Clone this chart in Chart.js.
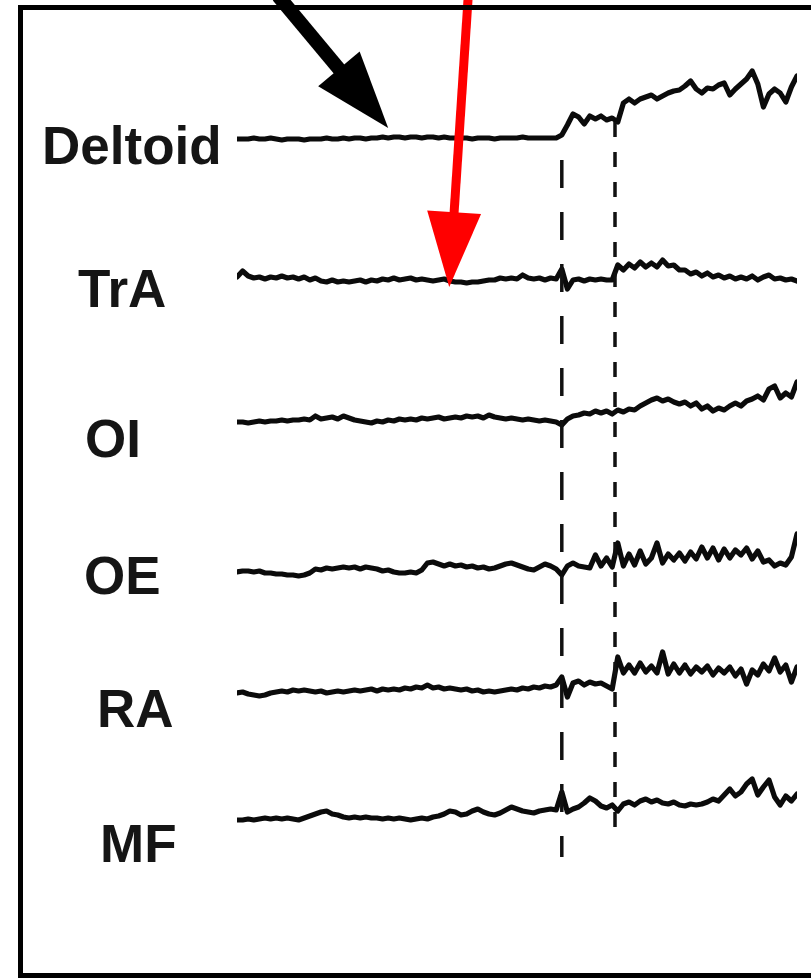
<!DOCTYPE html>
<html>
<head>
<meta charset="utf-8">
<title>EMG onset</title>
<script src="https://cdn.jsdelivr.net/npm/chart.js@4.4.1/dist/chart.umd.min.js"></script>
<style>
  html, body { margin: 0; padding: 0; background: #fff; }
  canvas { display: block; }
</style>
</head>
<body>
<canvas id="emg" width="811" height="979"></canvas>
<script>
// sample times (ms), 10 ms per sample
const timeMs = [
  0, 10, 20, 30, 40, 50, 60, 70, 80, 90,
  100, 110, 120, 130, 140, 150, 160, 170, 180, 190,
  200, 210, 220, 230, 240, 250, 260, 270, 280, 290,
  300, 310, 320, 330, 340, 350, 360, 370, 380, 390,
  400, 410, 420, 430, 440, 450, 460, 470, 480, 490,
  500, 510, 520, 530, 540, 550, 560, 570, 580, 590,
  600, 610, 620, 630, 640, 650, 660, 670, 680, 690,
  700, 710, 720, 730, 740, 750, 760, 770, 780, 790,
  800, 810, 820, 830, 840, 850, 860, 870, 880, 890,
  900, 910, 920, 930, 940, 950, 960, 970, 980, 990,
  1000
];

const muscles = ['Deltoid', 'TrA', 'OI', 'OE', 'RA', 'MF'];
// stacking baseline of each channel
const channelOffset = [84.0, 69.9, 55.7, 40.7, 28.6, 15.9];

// raw EMG (arbitrary units), one array per muscle
const deltoid = [
  0.0, 0.0, 0.0, 0.1, 0.0, 0.0, 0.1, 0.0, -0.1, 0.0,
  0.0, 0.0, -0.1, 0.0, 0.0, 0.0, 0.1, 0.0, 0.0, 0.1,
  0.0, 0.1, 0.1, 0.0, 0.1, 0.1, 0.2, 0.1, 0.2, 0.2,
  0.1, 0.2, 0.2, 0.1, 0.2, 0.2, 0.1, 0.2, 0.1, 0.1,
  0.1, 0.1, 0.0, 0.1, 0.1, 0.1, 0.0, 0.1, 0.1, 0.1,
  0.1, 0.2, 0.1, 0.1, 0.1, 0.1, 0.1, 0.1, 0.4, 1.4,
  2.5, 2.2, 1.5, 2.3, 2.0, 2.3, 1.9, 2.1, 1.7, 3.6,
  4.0, 3.6, 4.0, 4.2, 4.4, 4.0, 4.3, 4.6, 4.8, 4.9,
  5.3, 5.8, 5.0, 4.6, 5.1, 5.0, 5.4, 5.6, 4.4, 5.0,
  5.5, 6.0, 6.8, 5.5, 3.2, 4.5, 5.0, 4.6, 3.7, 5.2,
  6.3
];
const trA = [
  0.3, 0.9, 0.4, 0.2, 0.3, 0.1, 0.3, 0.2, 0.4, 0.2,
  0.3, 0.1, 0.3, 0.0, 0.2, -0.1, -0.2, 0.0, -0.2, -0.1,
  -0.2, -0.1, 0.0, -0.2, 0.0, -0.1, 0.1, 0.0, 0.2, 0.0,
  0.1, 0.2, 0.0, 0.1, 0.0, -0.1, 0.0, 0.1, -0.1, -0.2,
  -0.2, -0.3, -0.2, -0.2, -0.1, 0.0, 0.0, 0.2, 0.1, 0.2,
  0.1, 0.5, 0.2, 0.1, 0.2, 0.0, 0.2, 0.1, 1.1, -0.9,
  0.0, 0.1, -0.1, 0.1, 0.0, 0.1, 0.0, 0.0, 1.5, 1.0,
  1.6, 1.2, 1.8, 1.3, 1.7, 1.3, 2.0, 1.4, 1.5, 1.0,
  1.0, 0.6, 0.8, 0.4, 0.7, 0.3, 0.5, 0.2, 0.4, 0.1,
  0.3, 0.1, 0.4, 0.0, 0.3, 0.5, 0.1, 0.2, 0.0, 0.1,
  -0.1
];
const oI = [
  0.0, 0.0, -0.1, 0.0, 0.1, 0.0, 0.1, 0.1, 0.2, 0.1,
  0.2, 0.2, 0.3, 0.2, 0.6, 0.3, 0.4, 0.5, 0.3, 0.6,
  0.4, 0.2, 0.1, 0.0, -0.1, 0.1, 0.0, 0.2, 0.1, 0.3,
  0.2, 0.3, 0.2, 0.4, 0.3, 0.4, 0.5, 0.3, 0.4, 0.5,
  0.4, 0.6, 0.5, 0.6, 0.4, 0.7, 0.5, 0.4, 0.3, 0.4,
  0.3, 0.2, 0.3, 0.2, 0.1, 0.2, 0.1, 0.0, -0.3, 0.3,
  0.6, 0.7, 0.9, 0.8, 1.1, 0.9, 1.1, 0.8, 1.2, 1.0,
  1.3, 1.2, 1.6, 1.9, 2.2, 2.4, 2.1, 2.3, 2.0, 1.8,
  2.0, 1.6, 1.9, 1.3, 1.6, 1.1, 1.4, 1.2, 1.6, 1.9,
  1.6, 2.1, 2.3, 2.6, 2.2, 3.3, 3.6, 2.4, 2.9, 2.5,
  4.0
];
const oE = [
  0.0, 0.1, 0.1, 0.0, 0.1, -0.1, -0.1, -0.2, -0.2, -0.3,
  -0.3, -0.4, -0.3, -0.1, 0.3, 0.2, 0.4, 0.3, 0.4, 0.5,
  0.4, 0.5, 0.3, 0.5, 0.4, 0.3, 0.1, 0.2, 0.0, -0.1,
  -0.1, 0.0, -0.1, 0.2, 0.9, 1.0, 0.8, 0.6, 0.8, 0.6,
  0.7, 0.5, 0.6, 0.4, 0.5, 0.3, 0.4, 0.6, 0.8, 0.9,
  0.7, 0.5, 0.3, 0.2, 0.5, 0.8, 0.6, 0.3, -0.3, 0.6,
  0.9, 0.6, 0.5, 0.4, 1.7, 0.6, 1.4, 0.5, 2.9, 0.6,
  1.8, 0.7, 2.1, 0.8, 1.4, 2.9, 0.9, 1.8, 1.2, 1.9,
  1.1, 2.0, 1.3, 2.5, 1.4, 2.4, 1.2, 2.3, 1.4, 2.2,
  1.7, 2.4, 1.3, 2.1, 1.0, 1.2, 0.6, 0.9, 0.7, 1.5,
  3.8
];
const rA = [
  0.0, 0.1, -0.1, -0.2, -0.3, -0.2, 0.0, 0.1, 0.2, 0.1,
  0.3, 0.2, 0.3, 0.2, 0.1, 0.2, 0.0, 0.1, 0.2, 0.1,
  0.2, 0.3, 0.2, 0.3, 0.4, 0.2, 0.4, 0.3, 0.4, 0.3,
  0.5, 0.4, 0.6, 0.5, 0.8, 0.5, 0.6, 0.4, 0.5, 0.4,
  0.3, 0.4, 0.2, 0.3, 0.1, 0.2, 0.1, 0.2, 0.3, 0.4,
  0.3, 0.5, 0.4, 0.6, 0.5, 0.7, 0.6, 0.8, 1.6, -0.4,
  1.0, 1.2, 0.8, 1.1, 0.9, 1.0, 0.7, 0.4, 3.6, 2.0,
  2.8, 2.0, 3.0, 2.1, 2.7, 2.0, 4.1, 1.9, 2.9, 2.0,
  2.8, 1.9, 2.6, 2.1, 2.7, 1.8, 2.5, 2.0, 2.6, 1.7,
  2.4, 0.9, 2.3, 1.8, 2.9, 2.2, 3.5, 2.1, 2.8, 1.1,
  2.6
];
const mF = [
  0.0, 0.0, 0.1, 0.0, 0.1, 0.2, 0.1, 0.2, 0.1, 0.2,
  0.1, 0.0, 0.2, 0.4, 0.6, 0.8, 0.9, 0.6, 0.5, 0.3,
  0.2, 0.3, 0.2, 0.3, 0.2, 0.2, 0.1, 0.2, 0.1, 0.2,
  0.1, 0.0, 0.1, 0.2, 0.1, 0.3, 0.4, 0.6, 0.9, 0.8,
  0.5, 0.6, 0.9, 1.1, 0.8, 0.6, 0.5, 0.7, 1.0, 1.3,
  1.1, 0.9, 0.8, 0.7, 0.9, 1.0, 1.1, 1.0, 2.8, 0.8,
  1.1, 1.3, 1.7, 2.2, 1.9, 1.4, 1.2, 1.5, 0.9, 1.6,
  1.8, 1.5, 1.9, 2.1, 1.8, 2.0, 1.7, 1.6, 1.8, 1.5,
  1.4, 1.6, 1.5, 1.6, 1.8, 2.1, 1.9, 2.5, 3.1, 2.4,
  2.8, 3.6, 4.1, 2.5, 3.3, 4.0, 2.3, 1.5, 2.4, 1.9,
  2.6
];
const traces = [deltoid, trA, oI, oE, rA, mF];

// onset markers (ms): first = long dash, second = short dash
const onsetMs = [580, 675];

const datasets = traces.map((vals, c) => ({
  label: muscles[c],
  data: vals.map((v, i) => ({ x: timeMs[i], y: channelOffset[c] + v })),
  borderColor: '#0b0b0b',
  borderWidth: 5.2,
  borderJoinStyle: 'round',
  borderCapStyle: 'round',
  pointRadius: 0,
  tension: 0,
  fill: false,
}));

// draws border, channel names, onset lines and the two arrows
const decorations = {
  id: 'decorations',
  afterDatasetsDraw(chart) {
    const { ctx } = chart;
    const xs = chart.scales.x;
    const ys = chart.scales.y;

    // onset lines
    const vl = [
      { t: onsetMs[0], top: 81.9, bottom: 12.2, dash: [28, 24] },
      { t: onsetMs[1], top: 85.7, bottom: 13.7, dash: [15, 15] },
    ];
    ctx.save();
    ctx.strokeStyle = '#111';
    ctx.lineWidth = 3.5;
    vl.forEach(l => {
      const x = xs.getPixelForValue(l.t);
      ctx.setLineDash(l.dash);
      ctx.beginPath();
      ctx.moveTo(x, ys.getPixelForValue(l.top));
      ctx.lineTo(x, ys.getPixelForValue(l.bottom));
      ctx.stroke();
    });
    ctx.restore();

    // channel names
    const labelPos = [
      { x: 42, dy: 6 }, { x: 78, dy: 8 }, { x: 85, dy: 16 },
      { x: 84, dy: 3 }, { x: 97, dy: 15 }, { x: 100, dy: 23 },
    ];
    ctx.save();
    ctx.fillStyle = '#151515';
    ctx.font = 'bold 53px "Liberation Sans", Arial, sans-serif';
    ctx.textBaseline = 'alphabetic';
    muscles.forEach((m, c) => {
      const cy = ys.getPixelForValue(channelOffset[c]) + labelPos[c].dy;
      ctx.fillText(m, labelPos[c].x, cy + 19);
    });
    ctx.restore();

    // arrows pointing at the baseline traces
    const arrows = [
      { t: 270, c: 0, lift: 1.1, color: '#000', tailDx: -110, shaft: 14, headLen: 77, headHalf: 27 },
      { t: 379, c: 1, lift: -0.7, color: '#ff0000', tailDx: 19, shaft: 9, headLen: 75, headHalf: 27 },
    ];
    arrows.forEach(a => {
      const tipX = xs.getPixelForValue(a.t);
      const tipY = ys.getPixelForValue(channelOffset[a.c] + a.lift);
      const tailX = tipX + a.tailDx, tailY = -4;
      const len = Math.hypot(tipX - tailX, tipY - tailY);
      const ux = (tipX - tailX) / len, uy = (tipY - tailY) / len;
      const nx = -uy, ny = ux;
      const bx = tipX - ux * a.headLen, by = tipY - uy * a.headLen;
      ctx.save();
      ctx.fillStyle = a.color;
      ctx.beginPath();
      ctx.moveTo(tailX + nx * a.shaft / 2, tailY + ny * a.shaft / 2);
      ctx.lineTo(bx + nx * a.shaft / 2 + ux * 2, by + ny * a.shaft / 2 + uy * 2);
      ctx.lineTo(bx + ux * 2 - nx * a.shaft / 2, by + uy * 2 - ny * a.shaft / 2);
      ctx.lineTo(tailX - nx * a.shaft / 2, tailY - ny * a.shaft / 2);
      ctx.closePath();
      ctx.fill();
      ctx.beginPath();
      ctx.moveTo(tipX, tipY);
      ctx.lineTo(bx + nx * a.headHalf, by + ny * a.headHalf);
      ctx.lineTo(bx - nx * a.headHalf, by - ny * a.headHalf);
      ctx.closePath();
      ctx.fill();
      ctx.restore();
    });

    // frame (right side runs off the page)
    ctx.save();
    ctx.strokeStyle = '#000';
    ctx.lineWidth = 5;
    ctx.strokeRect(20.5, 7.5, 820, 968);
    ctx.restore();
  }
};

new Chart(document.getElementById('emg').getContext('2d'), {
  type: 'line',
  data: { datasets },
  options: {
    responsive: false,
    animation: false,
    layout: { padding: { left: 237, right: 14, top: 0, bottom: 0 } },
    scales: {
      x: { type: 'linear', min: 0, max: 1000, display: false },
      y: { type: 'linear', min: 0, max: 97.9, display: false },
    },
    plugins: {
      legend: { display: false },
      tooltip: { enabled: false },
    },
  },
  plugins: [decorations],
});
</script>
</body>
</html>
